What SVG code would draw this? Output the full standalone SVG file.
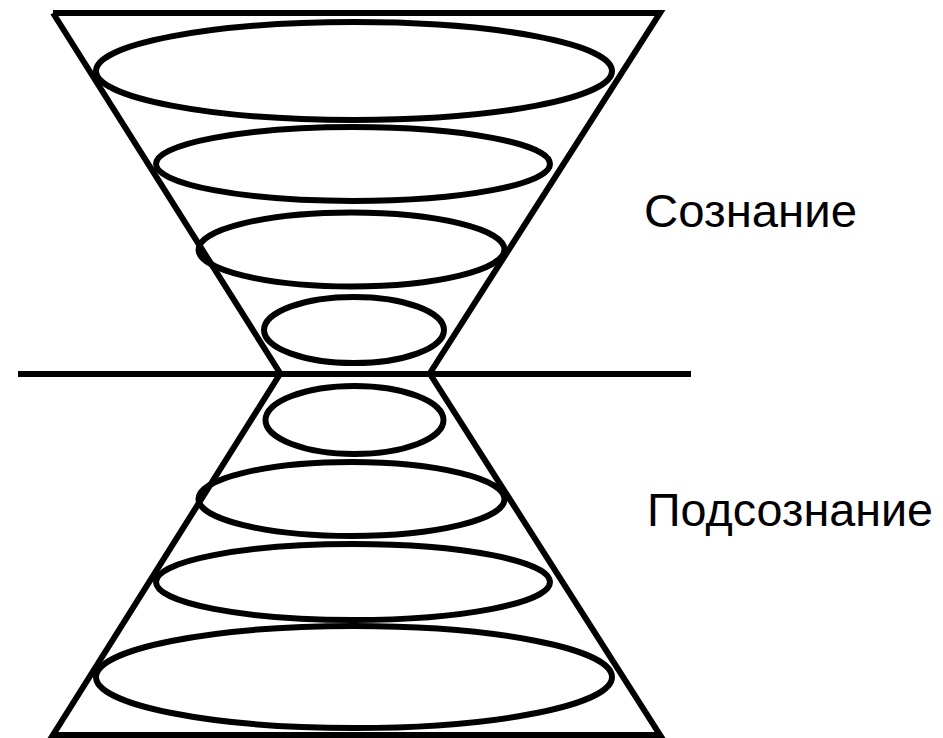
<svg xmlns="http://www.w3.org/2000/svg" width="943" height="738" viewBox="0 0 943 738">
<style>
.s{fill:none;stroke:#000;stroke-width:6;stroke-linejoin:miter}
.t{font-family:"Liberation Sans",Arial,sans-serif;font-size:47px;fill:#000}
</style>
<rect width="943" height="738" fill="#fff"/>
<g id="upper-cone">
<path class="s" d="M53,13 L660,13 L430,373 M53,13 L280,373"/>
</g>
<g id="lower-cone">
<path class="s" d="M280,374 L53,735 L660,735 L430,374"/>
</g>
<g id="divider">
<line class="s" x1="18" y1="374" x2="691" y2="374"/>
</g>
<g id="upper-rings">
<ellipse class="s" cx="354" cy="71" rx="258" ry="49"/>
<ellipse class="s" cx="353" cy="164" rx="197" ry="37"/>
<ellipse class="s" cx="351.5" cy="249.5" rx="153" ry="37"/>
<ellipse class="s" cx="354" cy="330" rx="90" ry="33"/>
</g>
<g id="lower-rings">
<ellipse class="s" cx="354.5" cy="420" rx="89" ry="34"/>
<ellipse class="s" cx="351.5" cy="499" rx="153" ry="37"/>
<ellipse class="s" cx="353" cy="582" rx="197" ry="38"/>
<ellipse class="s" cx="354" cy="677" rx="258" ry="51"/>
</g>
<g id="label-conscious">
<text class="t" x="644" y="227" textLength="213" lengthAdjust="spacingAndGlyphs">Сознание</text>
</g>
<g id="label-subconscious">
<text class="t" x="647" y="526" textLength="286" lengthAdjust="spacingAndGlyphs">Подсознание</text>
</g>
</svg>
